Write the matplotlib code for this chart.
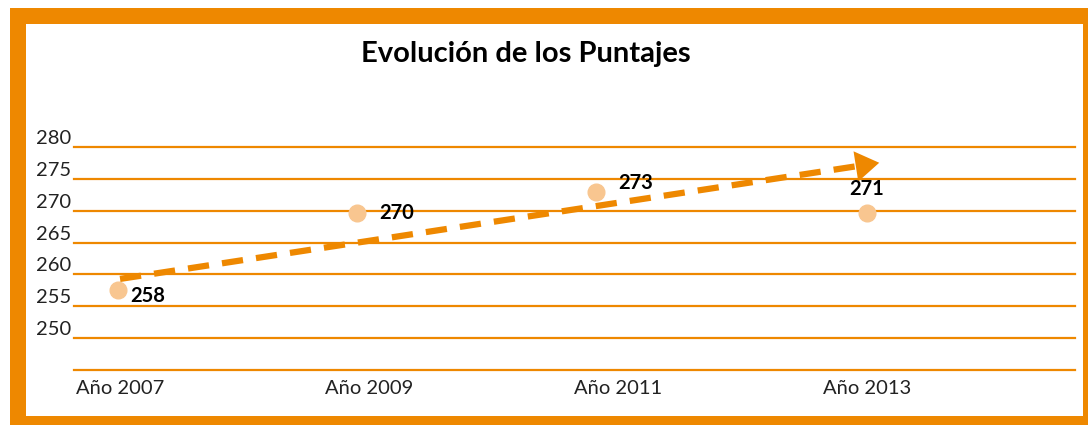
#!/usr/bin/env python3
"""
Evolución de los Puntajes - scores by year with trend arrow
"""

import matplotlib.pyplot as plt
from matplotlib.patches import Rectangle

# Data
years = ['Año 2007', 'Año 2009', 'Año 2011', 'Año 2013']
point_x = [-0.01, 0.95, 1.91, 3.0]
scores = [257.5, 269.7, 273.0, 269.7]
score_labels = ['258', '270', '273', '271']
y_ticks = [250, 255, 260, 265, 270, 275, 280]

# Hand drawn trend arrow (start / end in data units)
trend_x = [0.0, 3.06]
trend_y = [259.3, 277.6]

orange = '#EE8800'
light_orange = '#F8C690'

plt.rcParams['font.family'] = ['Lato', 'DejaVu Sans']

fig = plt.figure(figsize=(10.88, 4.25), dpi=100)

# Orange frame around the chart
frame = [(0.0092, 0.0, 0.0147, 0.981),
         (0.0092, 0.9435, 0.9908, 0.0375),
         (0.0092, 0.0, 0.9908, 0.021),
         (0.9954, 0.0, 0.0046, 0.981)]
for x0, y0, w, h in frame:
    fig.patches.append(Rectangle((x0, y0), w, h, transform=fig.transFigure,
                                 facecolor=orange, edgecolor='none', zorder=0))

ax = fig.add_axes([0.068, 0.1294, 0.92, 0.5246])
x = list(range(len(years)))

# Gridlines
ax.set_yticks(y_ticks + [245])
ax.grid(True, axis='y', color=orange, linewidth=1.6)
for gl in ax.get_ygridlines():
    gl.set_clip_on(False)
ax.set_axisbelow(True)

# Points
ax.plot(point_x, scores, 'o', color=light_orange, markersize=12, zorder=3)

# Value labels
offsets = [(9, -4, 'left', 'center'), (16, 0, 'left', 'center'),
           (16, 6, 'left', 'center'), (0, 17, 'center', 'center')]
for xi, yi, lab, (dx, dy, ha, va) in zip(point_x, scores, score_labels, offsets):
    ax.annotate(lab, (xi, yi), xytext=(dx, dy), textcoords='offset points',
                ha=ha, va=va, fontsize=14.5, fontweight='bold', zorder=5)

# Trend arrow
ax.plot([trend_x[0], trend_x[1] - 0.06], [trend_y[0], trend_y[1] - 0.36],
        color=orange, linewidth=4.5, linestyle=(0, (3.4, 2.1)),
        dash_capstyle='butt', zorder=4)
ax.annotate('', xy=(trend_x[1], trend_y[1]),
            xytext=(trend_x[1] - 0.1, trend_y[1] - 0.61),
            arrowprops=dict(arrowstyle='-|>,head_length=1.7,head_width=1.1',
                            color=orange, lw=0), zorder=4)

ax.set_xlim(-0.185, 3.835)
ax.set_ylim(245, 280)
ax.set_xticks(x)
ax.set_xticklabels(years, fontsize=14.5, color='#222222')
ax.set_yticklabels([str(t) for t in y_ticks] + [''], fontsize=14.5,
                   color='#222222', va='bottom')
ax.tick_params(axis='both', length=0)
ax.tick_params(axis='x', pad=7)
ax.tick_params(axis='y', pad=2)
for s in ax.spines.values():
    s.set_visible(False)

fig.text(0.483, 0.872, 'Evolución de los Puntajes', ha='center', va='center',
         fontsize=21, fontweight='bold')

plt.savefig('out.png', dpi=100)
